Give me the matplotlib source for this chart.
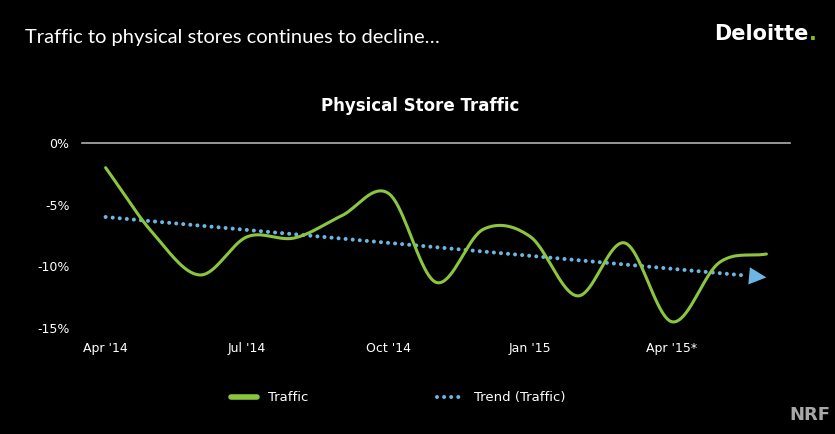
"""Physical store traffic chart (black slide style)."""

import matplotlib

matplotlib.use("Agg")

import matplotlib.pyplot as plt
import numpy as np
from matplotlib.lines import Line2D

# data (monthly, % change in traffic)
months = ["Apr '14", "May '14", "Jun '14", "Jul '14", "Aug '14", "Sep '14", "Oct '14",
          "Nov '14", "Dec '14", "Jan '15", "Feb '15", "Mar '15", "Apr '15*", "May '15", "Jun '15"]
traffic = [-2.0, -7.3, -10.7, -7.6, -7.7, -5.9, -4.1, -11.3, -7.0, -7.6, -12.4, -8.1, -14.5, -9.7, -9.0]
trend_ends = [-6.0, -10.9]
tick_months = ["Apr '14", "Jul '14", "Oct '14", "Jan '15", "Apr '15*"]
y_ticks = [0, -5, -10, -15]

GREEN = "#8CC63F"
BLUE = "#6BB6E2"
FONT = "DejaVu Sans"


def smooth(x, y, n=20):
    """Catmull-Rom curve through the points (like a 'smoothed line' in a spreadsheet)."""
    x = np.asarray(x, dtype=float)
    y = np.asarray(y, dtype=float)
    px = np.concatenate([[2 * x[0] - x[1]], x, [2 * x[-1] - x[-2]]])
    py = np.concatenate([[2 * y[0] - y[1]], y, [2 * y[-1] - y[-2]]])
    t = np.linspace(0, 1, n, endpoint=False)
    xs, ys = [], []
    for i in range(1, len(px) - 2):
        for p, out in ((px, xs), (py, ys)):
            p0, p1, p2, p3 = p[i - 1], p[i], p[i + 1], p[i + 2]
            out.append(0.5 * (2 * p1 + (-p0 + p2) * t + (2 * p0 - 5 * p1 + 4 * p2 - p3) * t ** 2
                              + (-p0 + 3 * p1 - 3 * p2 + p3) * t ** 3))
    return np.concatenate(xs + [[x[-1]]]), np.concatenate(ys + [[y[-1]]])


fig = plt.figure(figsize=(8.35, 4.34), dpi=100)
fig.patch.set_facecolor("black")
ax = fig.add_axes([82 / 835, 1 - 328 / 434, (790 - 82) / 835, (328 - 143) / 434])
ax.set_facecolor("black")

x = np.arange(len(months))
sx, sy = smooth(x, traffic)
ax.plot(sx, sy, color=GREEN, linewidth=2.2, solid_capstyle="round", zorder=3)

# trend line, dotted, ending in an arrow head
last = len(months) - 1
stop = last - 0.42
tx = np.array([0, stop - 0.05])
ty = np.interp(tx, [0, last], trend_ends)
ax.plot(tx, ty, color=BLUE, linewidth=2.9, linestyle=(0, (0.01, 1.75)),
        dash_capstyle="round", zorder=2)
ax.annotate("", xy=(last, trend_ends[1]), xytext=(stop, np.interp(stop, [0, last], trend_ends)),
            arrowprops=dict(arrowstyle="-|>,head_length=1.25,head_width=0.62",
                            color=BLUE, lw=0, shrinkA=0, shrinkB=0))

ax.set_xlim(-0.5, last + 0.5)
ax.set_ylim(-15, 0)
ax.set_xticks([months.index(m) for m in tick_months])
ax.set_xticklabels(tick_months)
ax.set_yticks(y_ticks)
ax.set_yticklabels([f"{v}%" for v in y_ticks])
ax.tick_params(length=0, colors="white", labelsize=9)
ax.tick_params(axis="x", pad=10)
ax.tick_params(axis="y", pad=9)
for lab in ax.get_xticklabels() + ax.get_yticklabels():
    lab.set_family(FONT)
for side in ("right", "bottom", "left"):
    ax.spines[side].set_visible(False)
ax.spines["top"].set_color("#b0b0b0")
ax.spines["top"].set_linewidth(1.2)

fig.text(420 / 835, 1 - 106 / 434, "Physical Store Traffic", color="white", fontsize=12,
         fontweight="bold", family=FONT, ha="center", va="center")

handles = [
    Line2D([], [], color=GREEN, linewidth=4, solid_capstyle="round"),
    Line2D([], [], color=BLUE, linewidth=2.9, linestyle=(0, (0.01, 1.75)), dash_capstyle="round"),
]
fig.legend(handles, ["Traffic", "Trend (Traffic)"], loc="center", bbox_to_anchor=(0.477, 0.083),
           ncol=2, frameon=False, labelcolor="white", handlelength=2.0,
           handletextpad=0.8, columnspacing=9.8, prop={"family": FONT, "size": 9.5})

# headline and logos
fig.text(25 / 835, 1 - 37 / 434, "Traffic to physical stores continues to decline…", color="white",
         fontsize=14.5, family="Lato", va="center", ha="left")
fig.text(808 / 835, 1 - 34 / 434, "Deloitte", color="white", fontsize=15,
         fontweight="bold", family=FONT, va="center", ha="right")
fig.text(809 / 835, 1 - 34 / 434, ".", color="#86BC25", fontsize=15, fontweight="bold",
         family=FONT, va="center", ha="left")
fig.text(830 / 835, 1 - 415 / 434, "NRF", color="#a8a8a8", fontsize=13, fontweight="bold",
         family=FONT, va="center", ha="right")

fig.savefig("out.png", dpi=100, facecolor=fig.get_facecolor())
